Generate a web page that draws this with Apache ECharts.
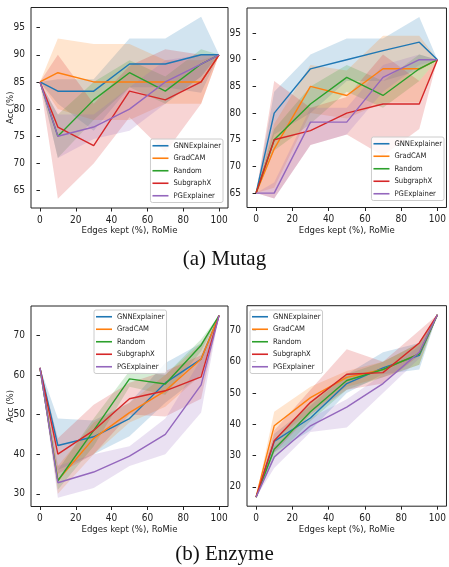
<!DOCTYPE html>
<html>
<head>
<meta charset="utf-8">
<script src="https://cdn.jsdelivr.net/npm/echarts@6/dist/echarts.min.js"></script>
<style>
  html, body { margin: 0; padding: 0; background: #fff; }
  #main { width: 449px; height: 567px; }
</style>
</head>
<body>
<div id="main"></div>
<script>
const edgesKept = [0, 10, 30, 50, 70, 90, 100];
const methods = ['GNNExplainer', 'GradCAM', 'Random', 'SubgraphX', 'PGExplainer'];
const colors = ['#1f77b4', '#ff7f0e', '#2ca02c', '#d62728', '#9467bd'];
const xTicks = [0, 20, 40, 60, 80, 100];

// (a) Mutag, left panel -- rows follow `methods`
const mutagLeftMean = [
  [85, 83.3, 83.3, 88.3, 88.3, 90, 90],
  [85, 86.7, 85, 85, 85, 85, 90],
  [85, 75, 81.7, 86.7, 83.3, 88.3, 90],
  [85, 76.7, 73.3, 83.3, 81.7, 85, 90],
  [85, 75, 76.7, 80, 85, 88.3, 90]
];
const mutagLeftLow = [
  [85, 81, 76, 84, 84, 83, 90],
  [85, 80, 78, 78, 81, 81, 90],
  [85, 71, 78, 84, 81, 86, 90],
  [85, 63.5, 70, 78.5, 72, 81, 90],
  [85, 71, 74.5, 76, 81, 86, 90]
];
const mutagLeftHigh = [
  [85, 85.5, 85.5, 93, 93, 97, 90],
  [85, 93, 92, 92, 89, 89, 90],
  [85, 79, 85, 89, 86, 91, 90],
  [85, 90, 81, 88, 91, 90, 90],
  [85, 79, 79, 84, 89, 90, 90]
];
const mutagLeftTicks = [65, 70, 75, 80, 85, 90, 95];

// (a) Mutag, right panel
const mutagRightMean = [
  [65, 80, 88.3, 90, 91.7, 93.3, 90],
  [65, 73.3, 85, 83.3, 88.3, 88.3, 90],
  [65, 75, 81.7, 86.7, 83.3, 88.3, 90],
  [65, 75, 76.7, 80, 81.7, 81.7, 90],
  [65, 65, 78.3, 78.3, 86.7, 90, 90]
];
const mutagRightLow = [
  [65, 76, 80, 86, 86, 88, 90],
  [65, 66, 80, 79, 82, 82, 90],
  [65, 73, 78, 84, 81, 86, 90],
  [65, 64, 74, 76, 72, 77, 90],
  [65, 64, 74, 76, 84, 89, 90]
];
const mutagRightHigh = [
  [65, 84, 91, 94, 94, 98, 90],
  [65, 78, 89, 88, 94.5, 94.5, 90],
  [65, 77, 85, 89, 86, 91, 90],
  [65, 86, 81, 83, 91, 86, 90],
  [65, 67, 81, 81, 89, 91, 90]
];
const mutagRightTicks = [65, 70, 75, 80, 85, 90, 95];

// (b) Enzyme, left panel
const enzymeLeftMean = [
  [61.8, 42.2, 44.4, 49, 58, 64, 75],
  [61.8, 33.4, 44, 50.5, 56, 64, 75],
  [61.8, 33.3, 46, 59, 57.7, 67.5, 75],
  [61.8, 40, 46, 54, 56, 59.5, 75],
  [61.8, 32.8, 35.5, 39.5, 45, 57.5, 75]
];
const enzymeLeftLow = [
  [61.8, 36, 40, 44.5, 53, 60, 75],
  [61.8, 30, 40, 48, 52, 60, 75],
  [61.8, 31, 42, 57, 55, 66, 75],
  [61.8, 35, 40, 50, 49.5, 54, 75],
  [61.8, 29, 31.5, 37, 40, 50.5, 75]
];
const enzymeLeftHigh = [
  [61.8, 49, 48.5, 53, 63, 68, 75],
  [61.8, 37, 48, 53, 60, 68, 75],
  [61.8, 36, 49, 61, 60, 69, 75],
  [61.8, 44, 52.5, 58, 61, 65, 75],
  [61.8, 37, 40, 42, 49, 64, 75]
];
const enzymeLeftTicks = [30, 40, 50, 60, 70];

// (b) Enzyme, right panel
const enzymeRightMean = [
  [16.7, 34.5, 42, 53, 58, 62, 75],
  [16.7, 39.5, 48.5, 55, 57.5, 62.5, 75],
  [16.7, 32, 44, 54, 57.5, 62.5, 75],
  [16.7, 34.7, 47, 56, 56.5, 66, 75],
  [16.7, 29.5, 39.5, 45.5, 53, 63, 75]
];
const enzymeRightLow = [
  [16.7, 31, 38, 50, 56, 57.5, 75],
  [16.7, 35, 44, 52, 55, 59, 75],
  [16.7, 29, 41, 51, 55, 59, 75],
  [16.7, 31, 43, 51, 53, 62, 75],
  [16.7, 26, 37.5, 39, 50, 61, 75]
];
const enzymeRightHigh = [
  [16.7, 37, 46, 56, 63, 66, 75],
  [16.7, 44, 52, 57, 60, 66, 75],
  [16.7, 35, 47, 56, 60, 66, 75],
  [16.7, 38, 51, 64, 60, 70, 75],
  [16.7, 33, 42, 48, 56, 65, 75]
];
const enzymeRightTicks = [20, 30, 40, 50, 60, 70];

const FONT = "'DejaVu Sans Condensed', 'Liberation Sans Narrow', 'DejaVu Sans', sans-serif";
const INK = '#222';

// layout of the four subplots (pixels)
const panels = [
  { mean: mutagLeftMean, low: mutagLeftLow, high: mutagLeftHigh, yTicks: mutagLeftTicks,
    grid: { left: 31, top: 7.5, width: 197, height: 200.5 }, yMin: 61.8, yMax: 98.7, ylabel: true,
    legend: { right: 226, top: 139 } },
  { mean: mutagRightMean, low: mutagRightLow, high: mutagRightHigh, yTicks: mutagRightTicks,
    grid: { left: 247, top: 8, width: 201, height: 199.5 }, yMin: 62.3, yMax: 99.7, ylabel: false,
    legend: { right: 5, top: 137 } },
  { mean: enzymeLeftMean, low: enzymeLeftLow, high: enzymeLeftHigh, yTicks: enzymeLeftTicks,
    grid: { left: 31, top: 306, width: 197, height: 200.5 }, yMin: 26.8, yMax: 77.4, ylabel: true,
    legend: { left: 94, top: 310 } },
  { mean: enzymeRightMean, low: enzymeRightLow, high: enzymeRightHigh, yTicks: enzymeRightTicks,
    grid: { left: 247, top: 305.7, width: 201, height: 200.5 }, yMin: 13.8, yMax: 77.9, ylabel: false,
    legend: { left: 250, top: 310 } }
];

const grids = [], xAxes = [], yAxes = [], legends = [], series = [];

panels.forEach((p, pi) => {
  grids.push(Object.assign({ show: true, borderColor: INK, borderWidth: 1, backgroundColor: 'transparent' }, p.grid));
  xAxes.push({
    gridIndex: pi, type: 'value', min: -5, max: 105,
    splitLine: { show: false }, axisLine: { show: false },
    axisTick: { show: true, customValues: xTicks, length: 3.5, lineStyle: { color: INK } },
    axisLabel: { customValues: xTicks, color: INK, fontSize: 10, fontFamily: FONT, margin: 7 },
    name: 'Edges kept (%), RoMie', nameLocation: 'middle', nameGap: 18, nameMoveOverlap: false,
    nameTextStyle: { color: INK, fontSize: 9.5, fontFamily: FONT }
  });
  yAxes.push({
    gridIndex: pi, type: 'value', min: p.yMin, max: p.yMax,
    splitLine: { show: false }, axisLine: { show: false },
    axisTick: { show: true, customValues: p.yTicks, length: 3.5, lineStyle: { color: INK } },
    axisLabel: { customValues: p.yTicks, color: INK, fontSize: 10, fontFamily: FONT, margin: 6 },
    name: p.ylabel ? 'Acc (%)' : '', nameLocation: 'middle', nameGap: 15, nameMoveOverlap: false,
    nameTextStyle: { color: INK, fontSize: 9.5, fontFamily: FONT }
  });
  legends.push(Object.assign({
    data: methods, orient: 'vertical',
    icon: 'rect', itemWidth: 16, itemHeight: 1.6, itemGap: 0,
    padding: [0.5, 2, 0.5, 2], borderColor: '#ccc', borderWidth: 1, borderRadius: 2,
    backgroundColor: 'rgba(255,255,255,0.8)',
    textStyle: { color: INK, fontSize: 7.6, fontFamily: FONT, lineHeight: 12.5 },
    selectedMode: false
  }, p.legend));

  // shaded ranges first
  methods.forEach((m, mi) => {
    const pts = edgesKept.map((x, i) => [x, p.low[mi][i], p.high[mi][i]]);
    series.push({
      type: 'custom', name: m + ' range', xAxisIndex: pi, yAxisIndex: pi, z: 1,
      silent: true, encode: { x: 0, y: [1, 2] }, data: pts,
      renderItem: (params, api) => {
        if (params.dataIndex !== 0) return;
        const top = pts.map(d => api.coord([d[0], d[2]]));
        const bottom = pts.map(d => api.coord([d[0], d[1]])).reverse();
        return {
          type: 'polygon',
          shape: { points: top.concat(bottom) },
          style: { fill: colors[mi], opacity: 0.2 }
        };
      }
    });
  });
  // mean lines
  methods.forEach((m, mi) => {
    series.push({
      type: 'line', name: m, xAxisIndex: pi, yAxisIndex: pi, z: 3,
      data: edgesKept.map((x, i) => [x, p.mean[mi][i]]),
      showSymbol: false, symbol: 'none', silent: true,
      color: colors[mi], lineStyle: { width: 1.4, color: colors[mi] }
    });
  });
});

const chart = echarts.init(document.getElementById('main'), null, { renderer: 'canvas' });
chart.setOption({
  animation: false,
  backgroundColor: '#fff',
  grid: grids, xAxis: xAxes, yAxis: yAxes, legend: legends, series: series,
  graphic: [
    { type: 'text', left: 'center', top: 249, style: { text: '(a) Mutag', font: "21px 'Liberation Serif', 'DejaVu Serif', serif", fill: '#111' } },
    { type: 'text', left: 'center', top: 544, style: { text: '(b) Enzyme', font: "21px 'Liberation Serif', 'DejaVu Serif', serif", fill: '#111' } }
  ]
});
</script>
</body>
</html>
